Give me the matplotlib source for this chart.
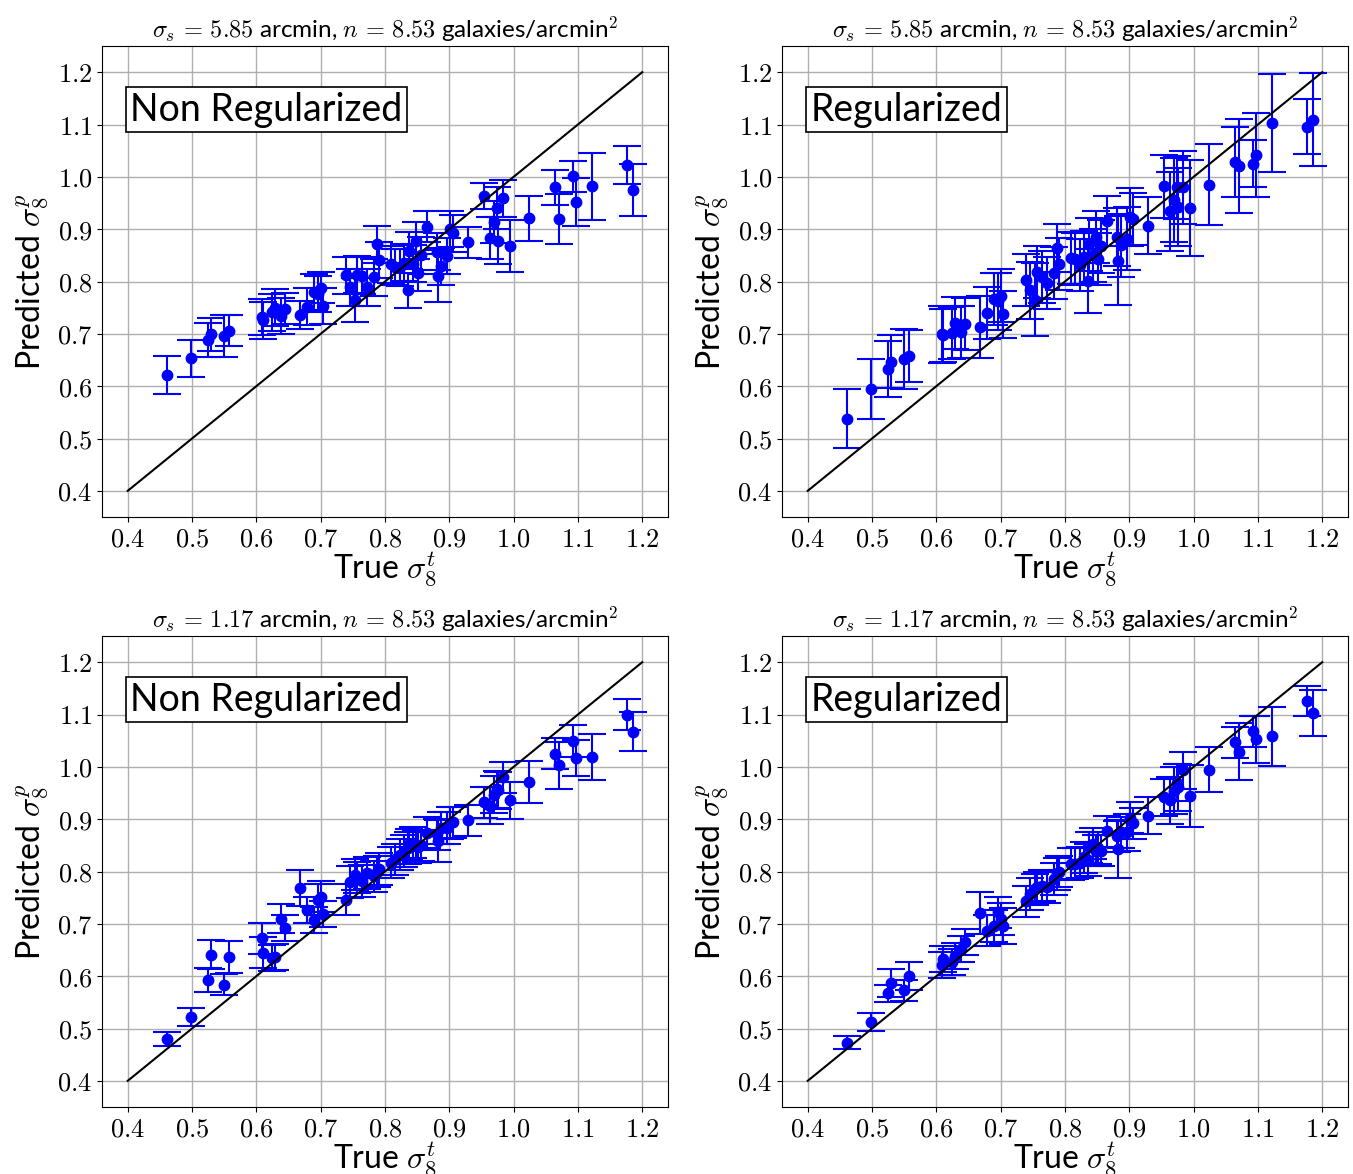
import numpy as np
import matplotlib
matplotlib.use("Agg")
import matplotlib.pyplot as plt
from matplotlib.ticker import FuncFormatter

plt.rcParams["mathtext.fontset"] = "cm"
plt.rcParams["font.family"] = ["Lato", "DejaVu Sans"]

# true sigma_8 of the test set (same for all panels)
sigma_true = [0.461, 0.499, 0.525, 0.529, 0.550, 0.557, 0.609, 0.611, 0.625, 0.629,
              0.639, 0.644, 0.668, 0.678, 0.690, 0.696, 0.701, 0.704, 0.740, 0.746,
              0.753, 0.757, 0.765, 0.772, 0.783, 0.787, 0.791, 0.809, 0.816, 0.823,
              0.830, 0.835, 0.838, 0.844, 0.848, 0.852, 0.856, 0.866, 0.881, 0.882,
              0.887, 0.897, 0.901, 0.906, 0.929, 0.954, 0.964, 0.970, 0.974, 0.976,
              0.983, 0.995, 1.024, 1.065, 1.071, 1.093, 1.097, 1.122, 1.176, 1.186]

# sigma_s = 5.85, non regularized
pred_a = [0.621, 0.653, 0.688, 0.699, 0.696, 0.706, 0.732, 0.726, 0.741, 0.750,
          0.734, 0.748, 0.736, 0.752, 0.780, 0.776, 0.788, 0.753, 0.812, 0.789,
          0.764, 0.813, 0.811, 0.789, 0.808, 0.871, 0.841, 0.833, 0.828, 0.827,
          0.836, 0.783, 0.859, 0.834, 0.878, 0.817, 0.850, 0.905, 0.857, 0.810,
          0.829, 0.849, 0.900, 0.892, 0.875, 0.964, 0.883, 0.913, 0.941, 0.878,
          0.959, 0.868, 0.921, 0.980, 0.920, 1.001, 0.952, 0.982, 1.022, 0.975]
err_a = [0.036, 0.035, 0.032, 0.032, 0.040, 0.030, 0.035, 0.035, 0.035, 0.035,
         0.035, 0.030, 0.027, 0.035, 0.035, 0.035, 0.030, 0.035, 0.035, 0.035,
         0.042, 0.035, 0.035, 0.035, 0.035, 0.035, 0.035, 0.035, 0.035, 0.035,
         0.035, 0.033, 0.035, 0.035, 0.035, 0.035, 0.035, 0.030, 0.035, 0.050,
         0.035, 0.035, 0.035, 0.035, 0.030, 0.025, 0.040, 0.040, 0.040, 0.045,
         0.035, 0.050, 0.043, 0.033, 0.048, 0.030, 0.045, 0.064, 0.036, 0.049]

# sigma_s = 5.85, regularized
pred_b = [0.538, 0.595, 0.633, 0.647, 0.652, 0.658, 0.699, 0.697, 0.701, 0.721,
          0.703, 0.719, 0.713, 0.740, 0.766, 0.762, 0.773, 0.737, 0.803, 0.783,
          0.765, 0.818, 0.808, 0.797, 0.816, 0.864, 0.833, 0.845, 0.843, 0.832,
          0.846, 0.801, 0.871, 0.850, 0.885, 0.843, 0.867, 0.915, 0.885, 0.840,
          0.869, 0.882, 0.923, 0.920, 0.907, 0.982, 0.934, 0.956, 0.980, 0.942,
          0.980, 0.941, 0.985, 1.029, 1.020, 1.025, 1.042, 1.103, 1.096, 1.109]
err_b = [0.056, 0.057, 0.054, 0.050, 0.058, 0.050, 0.054, 0.050, 0.050, 0.050,
         0.050, 0.050, 0.060, 0.050, 0.050, 0.055, 0.050, 0.045, 0.050, 0.055,
         0.070, 0.050, 0.050, 0.050, 0.050, 0.045, 0.050, 0.050, 0.050, 0.050,
         0.050, 0.062, 0.050, 0.050, 0.050, 0.050, 0.050, 0.048, 0.055, 0.085,
         0.060, 0.060, 0.055, 0.050, 0.055, 0.060, 0.075, 0.080, 0.060, 0.075,
         0.070, 0.092, 0.077, 0.067, 0.090, 0.045, 0.080, 0.093, 0.052, 0.089]

# sigma_s = 1.17, non regularized
pred_c = [0.480, 0.522, 0.592, 0.641, 0.584, 0.637, 0.672, 0.645, 0.635, 0.636,
          0.710, 0.692, 0.768, 0.727, 0.708, 0.746, 0.752, 0.719, 0.746, 0.780,
          0.794, 0.788, 0.782, 0.797, 0.791, 0.800, 0.805, 0.817, 0.823, 0.832,
          0.839, 0.845, 0.852, 0.855, 0.848, 0.846, 0.850, 0.874, 0.871, 0.858,
          0.883, 0.883, 0.893, 0.894, 0.898, 0.932, 0.926, 0.947, 0.957, 0.955,
          0.980, 0.936, 0.971, 1.025, 1.003, 1.049, 1.017, 1.018, 1.100, 1.067]
err_c = [0.014, 0.018, 0.023, 0.028, 0.020, 0.030, 0.030, 0.030, 0.025, 0.025,
         0.028, 0.025, 0.034, 0.025, 0.025, 0.030, 0.030, 0.025, 0.030, 0.030,
         0.030, 0.030, 0.030, 0.030, 0.030, 0.030, 0.030, 0.030, 0.030, 0.030,
         0.030, 0.030, 0.030, 0.030, 0.030, 0.030, 0.030, 0.030, 0.030, 0.040,
         0.030, 0.030, 0.030, 0.030, 0.030, 0.030, 0.035, 0.035, 0.035, 0.035,
         0.030, 0.035, 0.040, 0.030, 0.045, 0.030, 0.035, 0.044, 0.030, 0.037]

# sigma_s = 1.17, regularized
pred_d = [0.473, 0.512, 0.567, 0.587, 0.573, 0.600, 0.622, 0.633, 0.627, 0.638,
          0.652, 0.665, 0.721, 0.687, 0.696, 0.722, 0.709, 0.696, 0.743, 0.757,
          0.766, 0.770, 0.773, 0.770, 0.786, 0.795, 0.800, 0.814, 0.815, 0.817,
          0.827, 0.822, 0.846, 0.853, 0.840, 0.845, 0.840, 0.877, 0.867, 0.843,
          0.875, 0.875, 0.903, 0.892, 0.907, 0.942, 0.936, 0.954, 0.970, 0.961,
          0.993, 0.944, 0.994, 1.047, 1.029, 1.068, 1.053, 1.058, 1.126, 1.103]
err_d = [0.012, 0.017, 0.017, 0.027, 0.020, 0.027, 0.025, 0.025, 0.025, 0.025,
         0.025, 0.025, 0.040, 0.030, 0.030, 0.030, 0.030, 0.035, 0.030, 0.030,
         0.030, 0.030, 0.030, 0.030, 0.030, 0.030, 0.030, 0.030, 0.030, 0.030,
         0.030, 0.030, 0.030, 0.030, 0.030, 0.030, 0.030, 0.030, 0.030, 0.056,
         0.030, 0.035, 0.030, 0.030, 0.035, 0.035, 0.045, 0.045, 0.035, 0.045,
         0.035, 0.059, 0.043, 0.030, 0.054, 0.030, 0.045, 0.057, 0.028, 0.044]

titles = [r"$\sigma_s\,=\,5.85$ arcmin, $n\,=\,8.53$ galaxies/arcmin$^2$",
          r"$\sigma_s\,=\,1.17$ arcmin, $n\,=\,8.53$ galaxies/arcmin$^2$"]
box_labels = ["Non Regularized", "Regularized"]

panels = [(pred_a, err_a), (pred_b, err_b), (pred_c, err_c), (pred_d, err_d)]

fig = plt.figure(figsize=(13.53, 11.74), dpi=100)
W, H = 1353, 1174
lefts = [102, 782]
tops = [46, 636]
aw, ah = 566, 471

ticks = np.arange(0.4, 1.21, 0.1)
fmt = FuncFormatter(lambda v, p: r"$%.1f$" % v)

for k, (pred, err) in enumerate(panels):
    row, col = divmod(k, 2)
    ax = fig.add_axes([lefts[col] / W, 1 - (tops[row] + ah) / H, aw / W, ah / H])
    ax.errorbar(sigma_true, pred, yerr=err, fmt="o", color="blue", ecolor="blue",
                markersize=7.5, capsize=10, elinewidth=1.5, capthick=1.5, zorder=3)
    ax.plot([0.4, 1.2], [0.4, 1.2], color="black", lw=1.5, zorder=4)
    ax.set_xlim(0.36, 1.24)
    ax.set_ylim(0.35, 1.25)
    ax.set_xticks(ticks)
    ax.set_yticks(ticks)
    ax.xaxis.set_major_formatter(fmt)
    ax.yaxis.set_major_formatter(fmt)
    ax.tick_params(labelsize=19)
    ax.grid(True, color="#b0b0b0", lw=1.0)
    ax.set_axisbelow(True)
    ax.set_xlabel(r"True $\sigma_8^t$", fontsize=23, labelpad=-1)
    ax.set_ylabel(r"Predicted $\sigma_8^p$", fontsize=23, labelpad=4)
    ax.set_title(titles[row], fontsize=17.5, pad=6)
    ax.text(0.05, 0.865, box_labels[col], transform=ax.transAxes, fontsize=27,
            va="center", ha="left", zorder=5,
            bbox=dict(boxstyle="square,pad=0.12", facecolor="white", edgecolor="black", lw=1.2))

fig.savefig("out.png", dpi=100)
